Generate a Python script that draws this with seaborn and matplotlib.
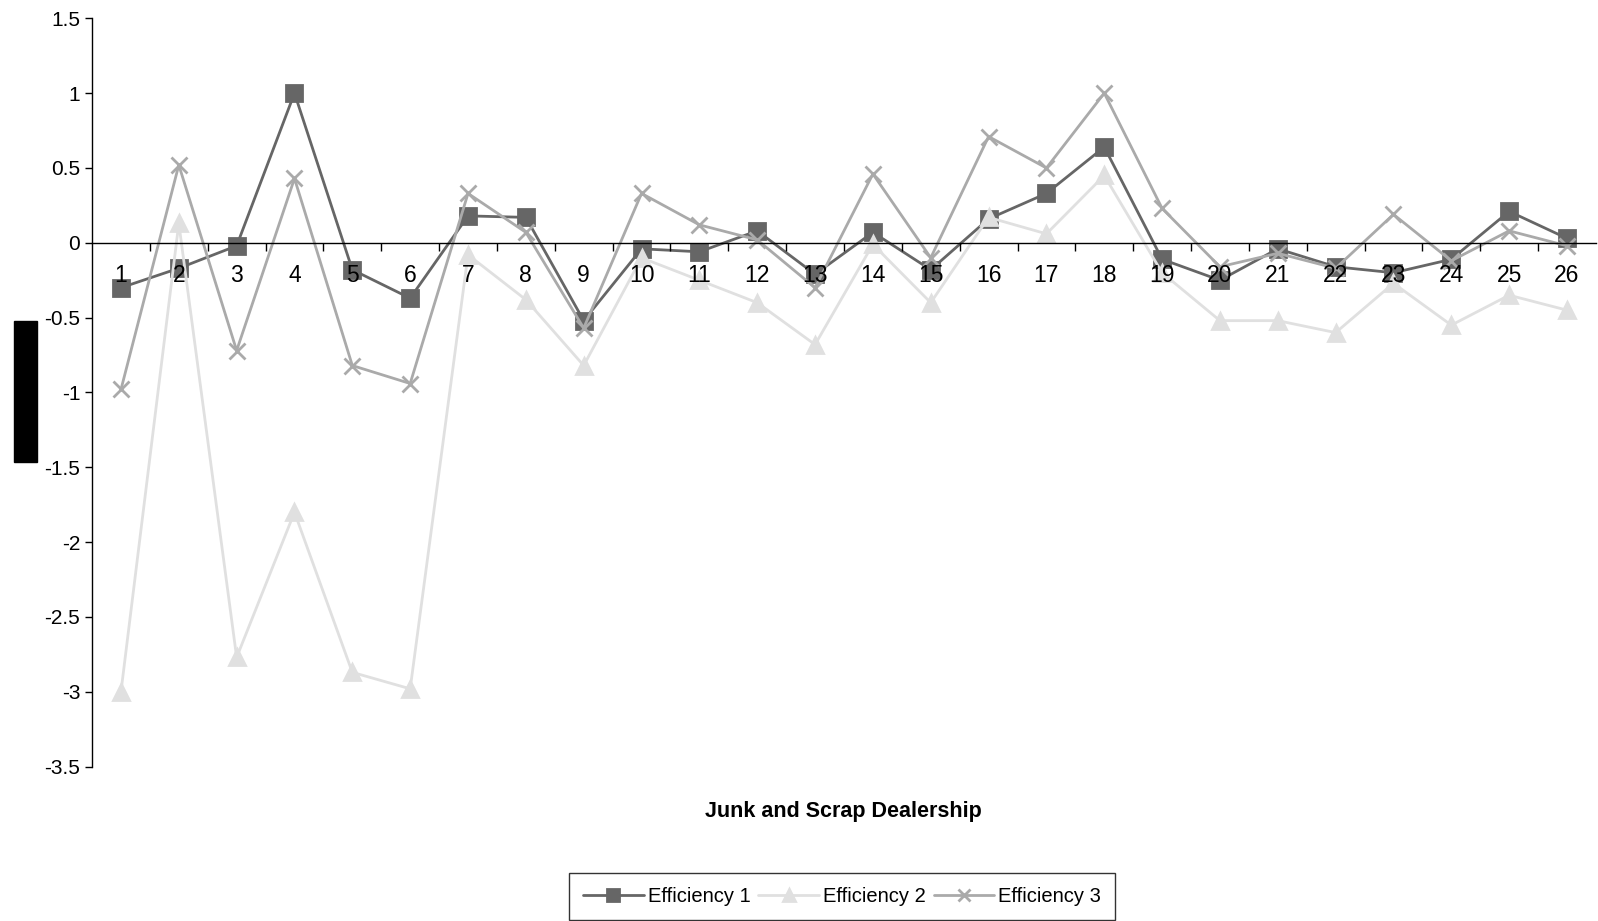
import numpy as np
import pandas as pd
import matplotlib
matplotlib.use("Agg")
import matplotlib.pyplot as plt
from matplotlib.patches import Rectangle
from matplotlib.ticker import FixedLocator
import seaborn as sns

# values
dealers = list(range(1, 27))
eff1 = [-0.30, -0.17, -0.02, 1.00, -0.18, -0.37, 0.18, 0.17, -0.52, -0.04,
        -0.06, 0.08, -0.21, 0.07, -0.18, 0.16, 0.33, 0.64, -0.11, -0.25,
        -0.04, -0.16, -0.20, -0.11, 0.21, 0.03]
eff2 = [-3.00, 0.13, -2.77, -1.80, -2.87, -2.98, -0.08, -0.38, -0.82, -0.10,
        -0.25, -0.40, -0.68, -0.01, -0.40, 0.17, 0.06, 0.45, -0.20, -0.52,
        -0.52, -0.60, -0.27, -0.55, -0.35, -0.45]
eff3 = [-0.98, 0.52, -0.72, 0.43, -0.82, -0.94, 0.33, 0.07, -0.57, 0.33,
        0.12, 0.02, -0.30, 0.46, -0.10, 0.71, 0.50, 1.00, 0.23, -0.16,
        -0.07, -0.17, 0.19, -0.12, 0.08, -0.02]
series_names = ["Efficiency 1", "Efficiency 2", "Efficiency 3"]
y_ticks = [1.5, 1, 0.5, 0, -0.5, -1, -1.5, -2, -2.5, -3, -3.5]
y_tick_labels = ["1.5", "1", "0.5", "0", "-0.5", "-1", "-1.5", "-2", "-2.5", "-3", "-3.5"]

df = pd.DataFrame({"Dealer": dealers * 3,
                   "Value": eff1 + eff2 + eff3,
                   "Series": np.repeat(series_names, len(dealers))})

sns.set_style("white")
plt.rcParams['font.family'] = ['Liberation Sans', 'DejaVu Sans']
plt.rcParams['text.color'] = 'black'
plt.rcParams['xtick.color'] = 'black'
plt.rcParams['ytick.color'] = 'black'
plt.rcParams['axes.labelcolor'] = 'black'

fig = plt.figure(figsize=(15.98, 9.21), dpi=100)
ax = fig.add_axes([0.0576, 0.1676, 0.9411, 0.8125])

colors = {"Efficiency 1": "#666666", "Efficiency 2": "#e0e0e0", "Efficiency 3": "#aaaaaa"}
markers = {"Efficiency 1": "s", "Efficiency 2": "^", "Efficiency 3": "x"}
sizes = {"Efficiency 1": 12, "Efficiency 2": 11, "Efficiency 3": 12}

for name in series_names:
    sub = df[df["Series"] == name]
    sns.lineplot(data=sub, x="Dealer", y="Value", ax=ax, color=colors[name],
                 marker=markers[name], markersize=sizes[name],
                 markeredgecolor=colors[name], markeredgewidth=2,
                 linewidth=2, label=name, legend=False)

ax.set_xlim(0.5, 26.5)
ax.set_ylim(-3.5, 1.5)
ax.set_yticks(y_ticks)
ax.set_yticklabels(y_tick_labels)
ax.set_xticks(dealers)
ax.set_xticklabels([str(d) for d in dealers])
ax.xaxis.set_minor_locator(FixedLocator(np.arange(1.5, 26.5, 1)))
# tick labels sit on top of the lines, as in the original
ax.set_axisbelow(False)
ax.xaxis.set_zorder(3)

for s in ["top", "right"]:
    ax.spines[s].set_visible(False)
ax.spines["bottom"].set_position(("data", 0))
ax.spines["bottom"].set_linewidth(1)
ax.spines["left"].set_linewidth(1)
ax.spines["bottom"].set_color("black")
ax.spines["left"].set_color("black")

ax.tick_params(axis="x", which="major", length=0, pad=15, labelsize=16.5, labelcolor="black")
ax.tick_params(axis="x", which="minor", direction="out", length=6, width=1, color="black", bottom=True)
ax.tick_params(axis="y", direction="out", length=5, width=1, color="black", left=True,
               labelsize=15, labelcolor="black")

ax.set_xlabel("")
ax.set_ylabel("")
ax.grid(False)

fig.text(0.528, 0.119, "Junk and Scrap Dealership", ha="center", va="center",
         fontsize=15.5, fontweight="bold", color="black")

# redacted y-axis label block
fig.add_artist(Rectangle((14 / 1598, 1 - 462 / 921), 23 / 1598, 141 / 921,
                         transform=fig.transFigure, color="black"))

handles, labels = ax.get_legend_handles_labels()
leg = fig.legend(handles, labels, loc="upper center", bbox_to_anchor=(0.527, 0.052),
                 ncol=3, frameon=True, fancybox=False, fontsize=14.5,
                 handlelength=3.0, columnspacing=0.4, handletextpad=0.2,
                 borderpad=0.7, borderaxespad=0, markerscale=0.75,
                 labelcolor="black")
leg.get_frame().set_edgecolor("black")
leg.get_frame().set_linewidth(1)

fig.savefig("out.png", dpi=100)
